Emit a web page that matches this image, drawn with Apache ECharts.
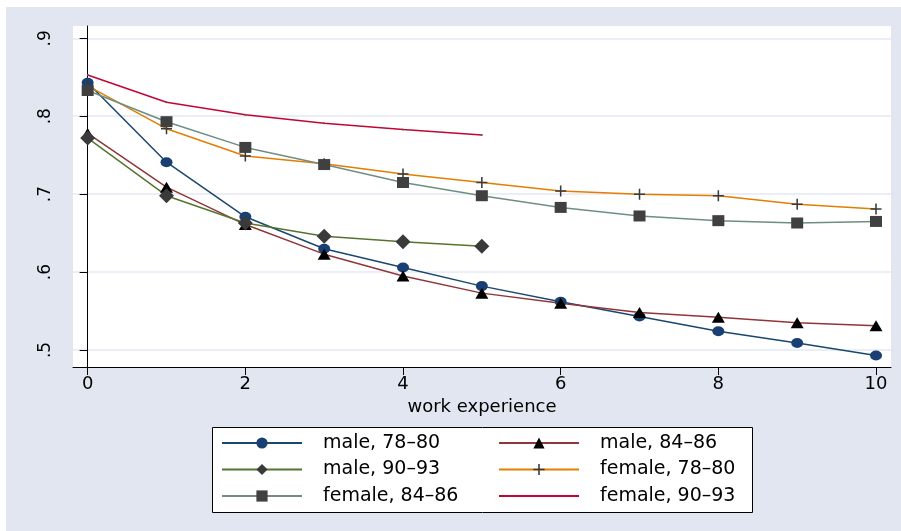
<!DOCTYPE html>
<html>
<head>
<meta charset="utf-8">
<script src="https://cdn.jsdelivr.net/npm/echarts@6/dist/echarts.min.js"></script>
<style>
    html, body { margin: 0; padding: 0; background: #fff; }
    #chart { position: absolute; left: 6px; top: 7px; width: 895px; height: 524px; }
</style>
</head>
<body>
<div id="chart"></div>
<script>
const experience = [0, 1, 2, 3, 4, 5, 6, 7, 8, 9, 10];
const xTicks = [0, 2, 4, 6, 8, 10];
const yTicks = [0.5, 0.6, 0.7, 0.8, 0.9];

const male7880 = [0.843, 0.741, 0.671, 0.630, 0.606, 0.582, 0.562, 0.543, 0.524, 0.509, 0.493];
const male8486 = [0.778, 0.709, 0.661, 0.623, 0.595, 0.573, 0.560, 0.548, 0.542, 0.535, 0.531];
const male9093 = [0.772, 0.698, 0.663, 0.646, 0.639, 0.633];
const female7880 = [0.839, 0.784, 0.749, 0.739, 0.726, 0.715, 0.704, 0.700, 0.698, 0.687, 0.681];
const female8486 = [0.833, 0.793, 0.760, 0.738, 0.715, 0.698, 0.683, 0.672, 0.666, 0.663, 0.665];
const female9093 = [0.853, 0.818, 0.802, 0.791, 0.783, 0.776];

const FONT = 'DejaVu Sans';
const PLUS = 'path://M4.3,0H5.7V4.3H10V5.7H5.7V10H4.3V5.7H0V4.3H4.3Z';

window.addEventListener('load', function() {
    renderChart();
});

function toPoints(values) {
    return values.map((v, i) => [experience[i], v]);
}

function renderChart() {
    const myChart = echarts.init(document.getElementById('chart'));

    const lines = [
        { name: 'male, 78\u201380', data: male7880, color: '#1a476f', symbol: 'circle', size: [12, 10], mark: '#1a3f72' },
        { name: 'male, 84\u201386', data: male8486, color: '#90353b', symbol: 'triangle', size: [13, 11], mark: '#000' },
        { name: 'male, 90\u201393', data: male9093, color: '#55752f', symbol: 'diamond', size: 15, mark: '#3a3a3a' },
        { name: 'female, 78\u201380', data: female7880, color: '#e37e00', symbol: PLUS, size: 11, mark: '#3a3a3a' },
        { name: 'female, 84\u201386', data: female8486, color: '#6e8e84', symbol: 'rect', size: [12, 11], mark: '#404040' },
        { name: 'female, 90\u201393', data: female9093, color: '#c10534', symbol: 'circle', size: 2, mark: '#555' }
    ];

    const legendText = { color: '#000', fontSize: 19, fontFamily: FONT, padding: [0, 0, 0, 16], lineHeight: 20 };
    const legendBase = {
        orient: 'vertical',
        top: 426,
        padding: 0,
        itemWidth: 80,
        itemHeight: 14,
        itemGap: 6.5,
        selectedMode: false,
        textStyle: legendText
    };

    const option = {
        backgroundColor: '#e1e6f0',
        animation: false,
        grid: {
            left: 67,
            top: 19,
            right: 10,
            bottom: 164,
            show: true,
            backgroundColor: '#fff',
            borderWidth: 0
        },
        xAxis: {
            type: 'value',
            min: -0.186,
            max: 10.19,
            name: 'work experience',
            nameLocation: 'middle',
            nameGap: 29,
            nameTextStyle: { color: '#000', fontSize: 18, fontFamily: FONT },
            axisLine: { show: true, lineStyle: { color: '#000', width: 1 } },
            axisTick: { show: true, length: 8, customValues: xTicks, lineStyle: { color: '#000' } },
            axisLabel: { customValues: xTicks, margin: 8, color: '#000', fontSize: 18, fontFamily: FONT },
            splitLine: { show: false }
        },
        yAxis: {
            type: 'value',
            min: 0.4782,
            max: 0.9158,
            axisLine: { show: true, lineStyle: { color: '#000', width: 1 } },
            axisTick: { show: true, length: 8, customValues: yTicks, lineStyle: { color: '#000' } },
            axisLabel: {
                customValues: yTicks,
                rotate: 90,
                margin: 19,
                color: '#000',
                fontSize: 17,
                fontFamily: FONT,
                formatter: v => String(Math.round(v * 10) / 10).replace(/^0/, '')
            },
            splitLine: { show: true, lineStyle: { color: '#e4e9f3', width: 1.5 } }
        },
        legend: [
            Object.assign({}, legendBase, {
                left: 215,
                data: lines.filter((d, i) => i % 2 === 0).map(d => d.name)
            }),
            Object.assign({}, legendBase, {
                left: 492,
                data: lines.filter((d, i) => i % 2 === 1).map(d => (
                    d.symbol === 'circle' && d.size === 2
                        ? { name: d.name, itemStyle: { opacity: 0 } }
                        : d.name
                ))
            })
        ],
        graphic: [{
            type: 'rect',
            left: 206,
            top: 420,
            shape: { width: 540, height: 85 },
            style: { fill: '#fff', stroke: '#000', lineWidth: 1 },
            z: -1
        }],
        series: lines.map(d => ({
            name: d.name,
            type: 'line',
            data: toPoints(d.data),
            symbol: d.symbol,
            symbolSize: d.size,
            showSymbol: true,
            lineStyle: { color: d.color, width: 1.5 },
            itemStyle: { color: d.mark, borderWidth: 0 },
            emphasis: { disabled: true }
        }))
    };

    myChart.setOption(option);
}
</script>
</body>
</html>
